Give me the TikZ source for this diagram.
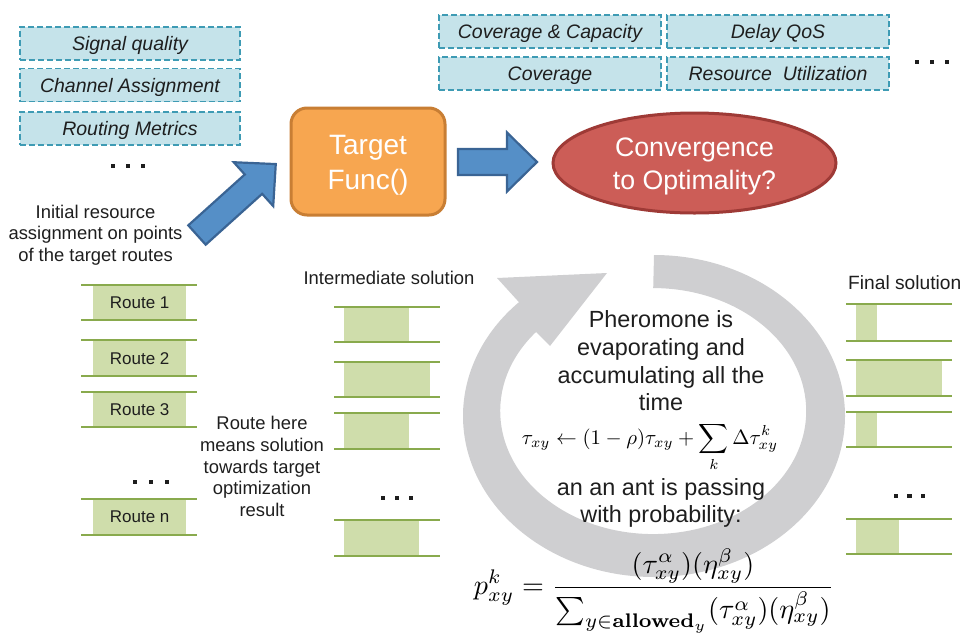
\documentclass[tikz,border=0pt]{standalone}
\usepackage[no-math]{fontspec}
\setmainfont{Liberation Sans}
\usepackage{graphicx}
\usetikzlibrary{shapes.geometric}

\definecolor{metricfill}{RGB}{197,227,234}
\definecolor{metricline}{RGB}{62,155,180}
\definecolor{funcfill}{RGB}{247,166,80}
\definecolor{funcline}{RGB}{200,126,52}
\definecolor{goalfill}{RGB}{204,93,87}
\definecolor{goalline}{RGB}{158,58,54}
\definecolor{flowfill}{RGB}{85,143,199}
\definecolor{flowline}{RGB}{58,100,148}
\definecolor{loopgray}{RGB}{207,207,209}
\definecolor{slotfill}{RGB}{207,221,171}
\definecolor{slotline}{RGB}{137,170,77}
\definecolor{ink}{RGB}{30,30,30}

\newcommand\fs[2]{\fontsize{#1}{#2}\selectfont}

\tikzset{
  metric/.style={draw=metricline, fill=metricfill, dash pattern=on 6pt off 3pt,
    line width=1.6pt, minimum width=220pt, minimum height=33pt, inner sep=0pt,
    text height=16pt, text depth=2pt,
    font=\fs{19.5}{23}\itshape, text=ink},
  func/.style={draw=funcline, fill=funcfill, line width=3pt, rounded corners=16pt,
    minimum width=154pt, minimum height=107pt, inner sep=0pt},
  functext/.style={align=center, inner sep=0pt, text=white, font=\fs{28}{35}},
  goal/.style={ellipse, draw=goalline, fill=goalfill, line width=3pt,
    minimum width=283pt, minimum height=100pt, inner sep=0pt},
  goaltext/.style={align=center, inner sep=0pt, text=white, font=\fs{26.7}{33}},
  flow/.style={draw=flowline, fill=flowfill, line width=2.2pt, line join=miter},
  note/.style={align=center, text=ink, inner sep=0pt, font=\fs{18.4}{21.6}},
  ringtext/.style={align=center, text=ink, inner sep=0pt, font=\fs{23.4}{27.7}},
  slotbox/.style={fill=slotfill, inner sep=0pt, anchor=north west, text=ink,
    font=\fs{17}{20}},
  slotedge/.style={draw=slotline, line width=2pt},
}

% block arrow: start coordinate, angle, total length
\newcommand\blockarrow[3]{%
  \begin{scope}[shift={(#1)}, rotate=#2]
    \draw[flow] (0,-13) -- ({#3-30},-13) -- ({#3-30},-29.5) -- (#3,0)
      -- ({#3-30},29.5) -- ({#3-30},13) -- (0,13) -- cycle;
  \end{scope}}

% three square dots: first x, spacing, y
\newcommand\tripledot[3]{%
  \foreach \k in {0,1,2}
    \fill[ink] ({#1+\k*#2-2.2},{#3-2.2}) rectangle ++(4.4,4.4);}

% route slot: name, line left, line right, top, bottom, fill left, fill right, label
\newcommand\routeslot[8]{%
  \node[slotbox, minimum width={(#7-#6)*1pt}, minimum height={(#5-#4)*1pt}]
    (#1) at (#6,#4) {#8};
  \draw[slotedge] (#2,#4) -- (#3,#4) (#2,#5) -- (#3,#5);}

\begin{document}
\begin{tikzpicture}[x=1pt, y=-1pt]
\useasboundingbox (0,0) rectangle (966,635);

% pheromone loop
\fill[loopgray] (654,255)
  arc[start angle=-90, end angle=225, x radius=191, y radius=161]
  -- (497,278) -- (607,273) -- (550,346)
  -- (536,332)
  arc[start angle=220, end angle=-90, x radius=153, y radius=123]
  -- cycle;

% objective metrics
\node[metric] (sig)  at (130,43.5) {Signal quality};
\node[metric] (chan) at (130,85)   {Channel Assignment};
\node[metric] (rout) at (130,128.5){Routing Metrics};
\tripledot{113}{15}{166}

\node[metric, minimum width=222pt] (covcap) at (550,31.5) {Coverage \& Capacity};
\node[metric, minimum width=222pt] (cov)    at (550,73.5) {Coverage};
\node[metric, minimum width=222pt] (delay)  at (778,31.5) {Delay QoS};
\node[metric, minimum width=222pt] (util)   at (778,73.5) {Resource~ Utilization};
\tripledot{917}{15}{62}

% main flow
\node[func] (target) at (368,161.5) {};
\node[functext] (targetlbl) at ([yshift=-4pt]target.center) {Target\\Func()};
\node[goal] (goal) at (694.5,163) {};
\node[goaltext] (goallbl) at ([yshift=-3.5pt]goal.center) {Convergence\\to Optimality?};

\coordinate (up0) at (197,235);
\coordinate (rt0) at (458,162);
\blockarrow{up0}{42}{106}
\blockarrow{rt0}{0}{79}

\node[note] (init) at (95.5,235) {Initial resource\\assignment on points\\of the target routes};

% initial routes
\routeslot{r1}{81}{197}{285}{320}{93}{186}{Route 1}
\routeslot{r2}{81}{197}{340}{376}{93}{186}{Route 2}
\routeslot{r3}{81}{197}{392}{427}{93}{186}{Route 3}
\tripledot{135}{16}{482}
\routeslot{rn}{81}{197}{499}{535}{93}{186}{Route n}

\node[note] (meaning) at (262,466.5) {Route here\\means solution\\towards target\\optimization\\result};

% intermediate solution
\node[note] (interlbl) at (389,278) {Intermediate solution};
\routeslot{i1}{334}{440}{307}{342}{344}{409}{}
\routeslot{i2}{334}{440}{362}{397}{344}{430}{}
\routeslot{i3}{334}{440}{413}{449}{344}{409}{}
\tripledot{383}{14}{498}
\routeslot{i4}{334}{440}{520}{556}{344}{419}{}

% final solution
\node[note, anchor=west, font=\fs{19.2}{22}] (finallbl) at (848,283) {Final solution};
\routeslot{f1}{846}{952}{304}{341}{856}{877}{}
\routeslot{f2}{846}{952}{360}{396}{856}{942}{}
\routeslot{f3}{846}{952}{412}{447}{856}{877}{}
\tripledot{896}{13.5}{496}
\routeslot{f4}{846}{952}{519}{554}{856}{899}{}

% pheromone update and transition probability
\node[ringtext] (pher) at (661,361) {Pheromone is\\evaporating and\\accumulating all the\\time};
\node[inner sep=0pt] (update) at (650,447) {\resizebox{256pt}{!}{$\tau_{xy} \leftarrow (1-\rho)\tau_{xy} + \displaystyle\sum_{k} \Delta\tau_{xy}^{k}$}};
\node[ringtext] (ant) at (661,503) {an an ant is passing\\with probability:};
\node[inner sep=0pt] (prob) at (654,591) {\resizebox{360pt}{!}{$\displaystyle p_{xy}^{k} = \frac{(\tau_{xy}^{\alpha})(\eta_{xy}^{\beta})}{\sum_{y\in\mathbf{allowed}_y}(\tau_{xy}^{\alpha})(\eta_{xy}^{\beta})}$}};
\end{tikzpicture}
\end{document}
